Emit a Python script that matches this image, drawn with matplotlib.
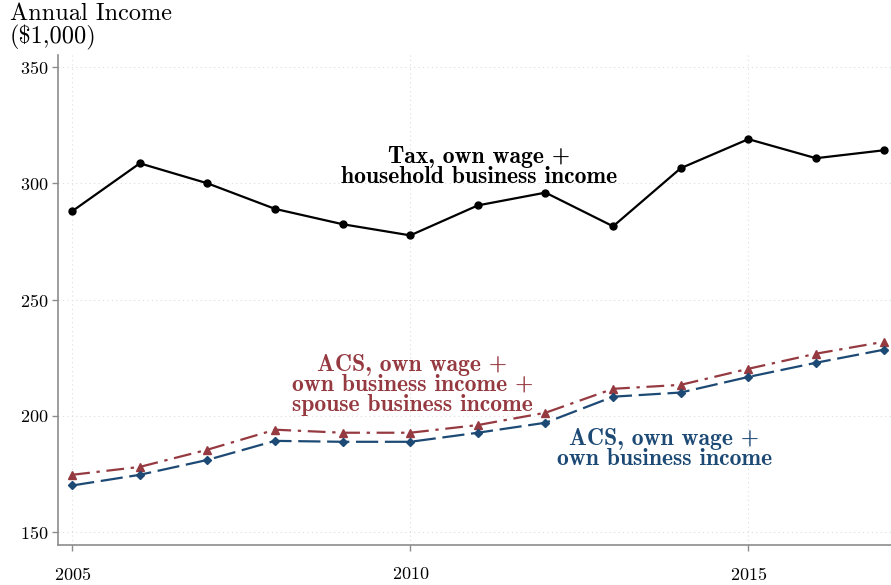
import matplotlib
matplotlib.use("Agg")
import matplotlib.pyplot as plt

years = [2005, 2006, 2007, 2008, 2009, 2010, 2011, 2012, 2013, 2014, 2015, 2016, 2017]
tax_hh = [288.0, 308.6, 300.0, 289.0, 282.4, 277.6, 290.5, 296.0, 281.5, 306.5, 319.0, 310.8, 314.2]
acs_spouse = [174.6, 178.0, 185.4, 194.0, 192.7, 192.7, 196.0, 201.3, 211.6, 213.3, 220.2, 226.7, 231.8]
acs_own = [170.0, 174.6, 181.0, 189.2, 188.8, 188.8, 192.7, 197.0, 208.2, 210.0, 216.7, 222.8, 228.4]
yticks = [150, 200, 250, 300, 350]
xticks = [2005, 2010, 2015]

red = "#963a41"
blue = "#1d4a75"
grey = "#8c8c8c"

plt.rcParams["font.family"] = ["cmr10", "DejaVu Serif"]
plt.rcParams["axes.formatter.use_mathtext"] = True
plt.rcParams["mathtext.fontset"] = "cm"

fig = plt.figure(figsize=(8.91, 5.85), dpi=100)
ax = fig.add_axes([58 / 891, 40 / 585, 833 / 891, 490 / 585])

ax.plot(years, tax_hh, color="black", lw=1.6, marker="o", ms=5, zorder=3)
ax.plot(years, acs_spouse, color=red, lw=1.6, marker="^", ms=6,
        dashes=(8, 3, 1.5, 3), zorder=3)
ax.plot(years, acs_own, color=blue, lw=1.6, marker="D", ms=4.5,
        dashes=(10, 3), zorder=3)

ax.set_xlim(2004.79, 2017.11)
ax.set_ylim(144.4, 355.2)
ax.set_xticks(xticks)
ax.set_yticks(yticks)
ax.grid(True, color="#dddddd", ls=(0, (1, 3)), lw=0.8)

for s in ["top", "right"]:
    ax.spines[s].set_visible(False)
for s in ["left", "bottom"]:
    ax.spines[s].set_color(grey)
    ax.spines[s].set_linewidth(1.2)
ax.tick_params(axis="both", colors=grey, length=4, width=1.0, labelcolor="black", labelsize=13)
ax.tick_params(axis="x", pad=11)
ax.tick_params(axis="y", pad=3)

fig.text(10 / 891, 1 - 26 / 585, "Annual Income\n($1,000)", fontsize=17.5, va="center",
         ha="left", linespacing=1.0)

lbl = dict(family="cmb10", fontsize=17, ha="center", va="center", linespacing=0.9)
ax.text(2011.02, 307.1, "Tax, own wage +\nhousehold business income", color="black", **lbl)
ax.text(2010.03, 213.3, "ACS, own wage +\nown business income +\nspouse business income",
        color=red, **lbl)
ax.text(2013.76, 185.8, "ACS, own wage +\nown business income", color=blue, **lbl)

fig.savefig("out.png", dpi=100)
